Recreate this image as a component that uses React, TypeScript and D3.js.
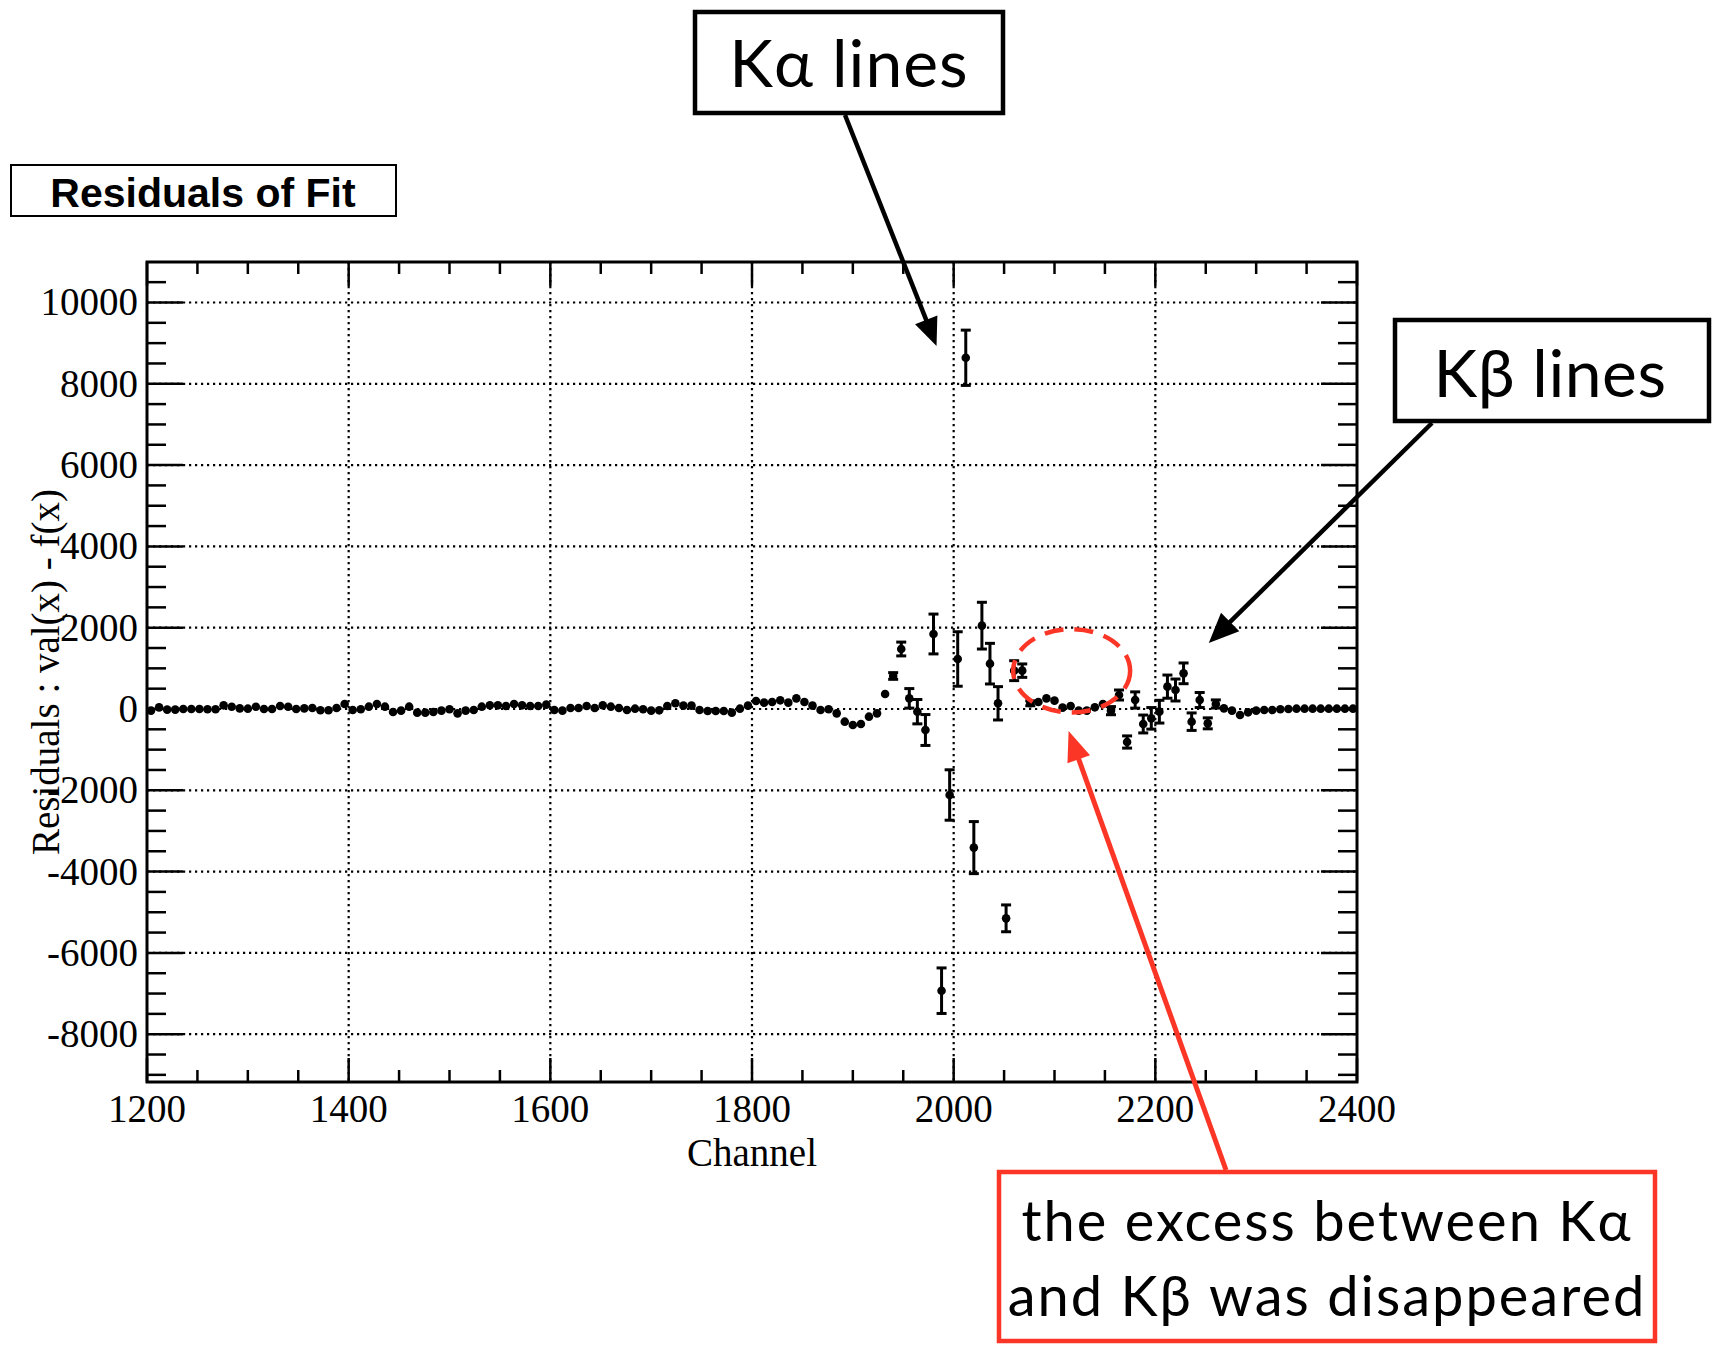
import React from "react";
import * as d3 from "d3";

// ---------------- data ----------------
const BIN_START = 1200;
const BIN_WIDTH = 8;

// residual per 8-channel bin, starting at channel 1200
const residuals: number[] = [
  -40, 40, -15, -15, 0, 0, 0, -8, -8, 90,
  55, 15, 8, 55, 0, 0, 75, 55, 0, 15,
  25, -30, -30, 25, 123, -25, -8, 57, 123, 57,
  -74, -41, 57, -90, -90, -74, -41, -8, -107, -41,
  -25, 57, 90, 90, 74, 123, 90, 74, 74, 107,
  -25, -41, 25, 25, 74, 25, 90, 57, 25, -25,
  8, -5, -41, -33, 74, 140, 82, 82, -25, -49,
  -49, -49, -90, 8, 82, 197, 156, 172, 213, 156,
  262, 172, 82, -25, -8, -107, -312, -394, -369, -189,
  -107, 369, 812, 1476, 262, -66, -517, 1845, -6930, -2116,
  1230, 8640, -3410, 2050, 1115, 140, -5150, 943, 943, 140,
  172, 262, 205, 33, 74, -41, -41, 41, 123, -41,
  344, -812, 221, -369, -230, -66, 550, 467, 877, -312,
  221, -353, 123, 16, -41, -148, -82, -41, -25, -25,
  -8, 0, 8, 8, 8, 8, 8, 8, 8, 8,
];

// statistical error per bin (0 = hidden under the marker)
const errors: number[] = [
  0, 0, 0, 0, 0, 0, 0, 0, 0, 0,
  0, 0, 0, 0, 0, 0, 0, 0, 0, 0,
  0, 0, 0, 0, 0, 0, 0, 0, 0, 0,
  0, 0, 0, 0, 0, 0, 0, 0, 0, 0,
  0, 0, 0, 0, 0, 0, 0, 0, 0, 0,
  0, 0, 0, 0, 0, 0, 0, 0, 0, 0,
  0, 0, 0, 0, 0, 0, 0, 0, 0, 0,
  0, 0, 0, 0, 0, 0, 0, 0, 0, 0,
  0, 0, 0, 0, 0, 0, 0, 0, 0, 0,
  0, 0, 82, 170, 240, 300, 380, 490, 560, 620,
  670, 680, 640, 575, 500, 410, 330, 245, 165, 60,
  0, 0, 0, 0, 0, 0, 0, 0, 0, 100,
  123, 150, 200, 220, 265, 280, 285, 270, 255, 215,
  185, 135, 100, 0, 0, 0, 0, 0, 0, 0,
  0, 0, 0, 0, 0, 0, 0, 0, 0, 0,
];

const xTickValues: number[] = [1200, 1400, 1600, 1800, 2000, 2200, 2400];
const yTickValues: number[] = [-8000, -6000, -4000, -2000, 0, 2000, 4000, 6000, 8000, 10000];

const titleText = "Residuals of Fit";
const xLabel = "Channel";
const yLabel = "Residuals : val(x) - f(x)";
const kAlphaText = "Kα lines";
const kBetaText = "Kβ lines";
const noteLines: string[] = ["the excess between Kα", "and Kβ was disappeared"];

// annotation targets in data coordinates
const kAlphaTip = { ch: 1983, v: 8930 };
const kBetaTip = { ch: 2253, v: 1624 };
const noteTip = { ch: 2114, v: -541 };
const excessRegion = { ch: 2117, v: 940, dCh: 58, dV: 1025 };

// ---------------- layout ----------------
const W = 1713;
const H = 1345;
const plot = { left: 147, right: 1357, top: 262, bottom: 1082 };
const RED = "#fc3626";
const SERIF = "'Liberation Serif', 'Times New Roman', serif";
const GILL = "Lato, 'Open Sans', sans-serif";

function Arrow(props: {
  x1: number; y1: number; x2: number; y2: number;
  color: string; width: number; headLen: number; headW: number;
}) {
  const { x1, y1, x2, y2, color, width, headLen, headW } = props;
  const a = Math.atan2(y2 - y1, x2 - x1);
  const bx = x2 - headLen * Math.cos(a);
  const by = y2 - headLen * Math.sin(a);
  const px = -Math.sin(a) * headW / 2;
  const py = Math.cos(a) * headW / 2;
  return (
    <g>
      <line x1={x1} y1={y1} x2={bx + Math.cos(a) * 4} y2={by + Math.sin(a) * 4}
        stroke={color} strokeWidth={width} />
      <polygon points={`${x2},${y2} ${bx + px},${by + py} ${bx - px},${by - py}`} fill={color} />
    </g>
  );
}

export default function App() {
  const x = d3.scaleLinear().domain([1200, 2400]).range([plot.left, plot.right]);
  const y = d3.scaleLinear().domain([-9176, 10996]).range([plot.bottom, plot.top]);

  const xMinor = x.ticks(24);
  const yMinor = y.ticks(40);

  const pts = residuals.map((v, i) => ({
    ch: BIN_START + BIN_WIDTH * (i + 0.5),
    v,
    e: errors[i],
  }));

  const xMajLen = 24, xMinLen = 12, yMajLen = 36, yMinLen = 19;
  const xMid = (plot.left + plot.right) / 2;
  const yMid = (plot.top + plot.bottom) / 2;
  const cap = 5;

  return (
    <div style={{ position: "absolute", left: 0, top: 0 }}>
      <svg width={W} height={H} style={{ display: "block", background: "#fff" }}>
        <rect x={0} y={0} width={W} height={H} fill="#fff" />

        {/* grid */}
        <g stroke="#000" strokeWidth={2.2} strokeDasharray="2.2 3.8">
          {xTickValues.filter((t) => t > 1200 && t < 2400).map((t) => (
            <line key={"gx" + t} x1={x(t)} x2={x(t)} y1={plot.top} y2={plot.bottom} />
          ))}
          {yTickValues.map((t) => (
            <line key={"gy" + t} x1={plot.left} x2={plot.right} y1={y(t)} y2={y(t)} />
          ))}
        </g>

        {/* ticks */}
        <g stroke="#000" strokeWidth={2.5}>
          {xMinor.map((t) => {
            const major = xTickValues.includes(t);
            const l = major ? xMajLen : xMinLen;
            return (
              <g key={"tx" + t}>
                <line x1={x(t)} x2={x(t)} y1={plot.bottom} y2={plot.bottom - l} />
                <line x1={x(t)} x2={x(t)} y1={plot.top} y2={plot.top + l} />
              </g>
            );
          })}
          {yMinor.map((t) => {
            const major = yTickValues.includes(t);
            const l = major ? yMajLen : yMinLen;
            return (
              <g key={"ty" + t}>
                <line x1={plot.left} x2={plot.left + l} y1={y(t)} y2={y(t)} />
                <line x1={plot.right} x2={plot.right - l} y1={y(t)} y2={y(t)} />
              </g>
            );
          })}
        </g>

        {/* frame */}
        <rect x={plot.left} y={plot.top} width={plot.right - plot.left} height={plot.bottom - plot.top}
          fill="none" stroke="#000" strokeWidth={3} />

        {/* tick labels */}
        <g fontFamily={SERIF} fontSize={39} fill="#000">
          {xTickValues.map((t) => (
            <text key={"lx" + t} x={x(t)} y={1122} textAnchor="middle">{t}</text>
          ))}
          {yTickValues.map((t) => (
            <text key={"ly" + t} x={138} y={y(t) + 13} textAnchor="end">{t}</text>
          ))}
          <text x={xMid} y={1166} textAnchor="middle">{xLabel}</text>
          <text transform={`translate(59, ${yMid}) rotate(-90)`} textAnchor="middle">{yLabel}</text>
        </g>

        {/* data */}
        <g stroke="#000" strokeWidth={3} fill="#000">
          {pts.filter((p) => p.e > 0).map((p, i) => (
            <g key={"e" + i}>
              <line x1={x(p.ch)} x2={x(p.ch)} y1={y(p.v - p.e)} y2={y(p.v + p.e)} />
              <line x1={x(p.ch) - cap} x2={x(p.ch) + cap} y1={y(p.v - p.e)} y2={y(p.v - p.e)} />
              <line x1={x(p.ch) - cap} x2={x(p.ch) + cap} y1={y(p.v + p.e)} y2={y(p.v + p.e)} />
            </g>
          ))}
        </g>
        <g fill="#000">
          {pts.map((p, i) => (
            <circle key={"p" + i} cx={x(p.ch)} cy={y(p.v)} r={4.3} />
          ))}
        </g>

        {/* title box */}
        <rect x={11} y={165} width={385} height={51} fill="#fff" stroke="#000" strokeWidth={2} />
        <text x={203} y={207} textAnchor="middle" fontFamily="'Liberation Sans', Arial, sans-serif"
          fontWeight="bold" fontSize={41}>{titleText}</text>

        {/* red dashed ellipse */}
        <ellipse cx={x(excessRegion.ch)} cy={y(excessRegion.v)}
          rx={x(excessRegion.ch + excessRegion.dCh) - x(excessRegion.ch)}
          ry={y(excessRegion.v) - y(excessRegion.v + excessRegion.dV)}
          fill="none" stroke={RED} strokeWidth={4.5} strokeDasharray="19 11" />

        {/* arrows */}
        <Arrow x1={845} y1={115} x2={x(kAlphaTip.ch)} y2={y(kAlphaTip.v)} color="#000" width={4.5} headLen={28} headW={24} />
        <Arrow x1={1432} y1={423} x2={x(kBetaTip.ch)} y2={y(kBetaTip.v)} color="#000" width={4.5} headLen={30} headW={26} />
        <Arrow x1={1226} y1={1170} x2={x(noteTip.ch)} y2={y(noteTip.v)} color={RED} width={5} headLen={30} headW={24} />

        {/* K-alpha box */}
        <rect x={695} y={12} width={308} height={101} fill="#fff" stroke="#000" strokeWidth={4.5} />
        <text x={849} y={87} textAnchor="middle" fontFamily={GILL} fontSize={66} letterSpacing={1}>{kAlphaText}</text>

        {/* K-beta box */}
        <rect x={1395} y={320} width={314} height={101} fill="#fff" stroke="#000" strokeWidth={4.5} />
        <text x={1550} y={397} textAnchor="middle" fontFamily={GILL} fontSize={66} letterSpacing={0.5}>{kBetaText}</text>

        {/* red note box */}
        <rect x={999} y={1172} width={656} height={169} fill="#fff" stroke={RED} strokeWidth={4.5} />
        <g fontFamily={GILL} fontSize={56} textAnchor="middle" fill="#000" letterSpacing={2}>
          <text x={1327} y={1241}>{noteLines[0]}</text>
          <text x={1327} y={1316}>{noteLines[1]}</text>
        </g>
      </svg>
    </div>
  );
}
